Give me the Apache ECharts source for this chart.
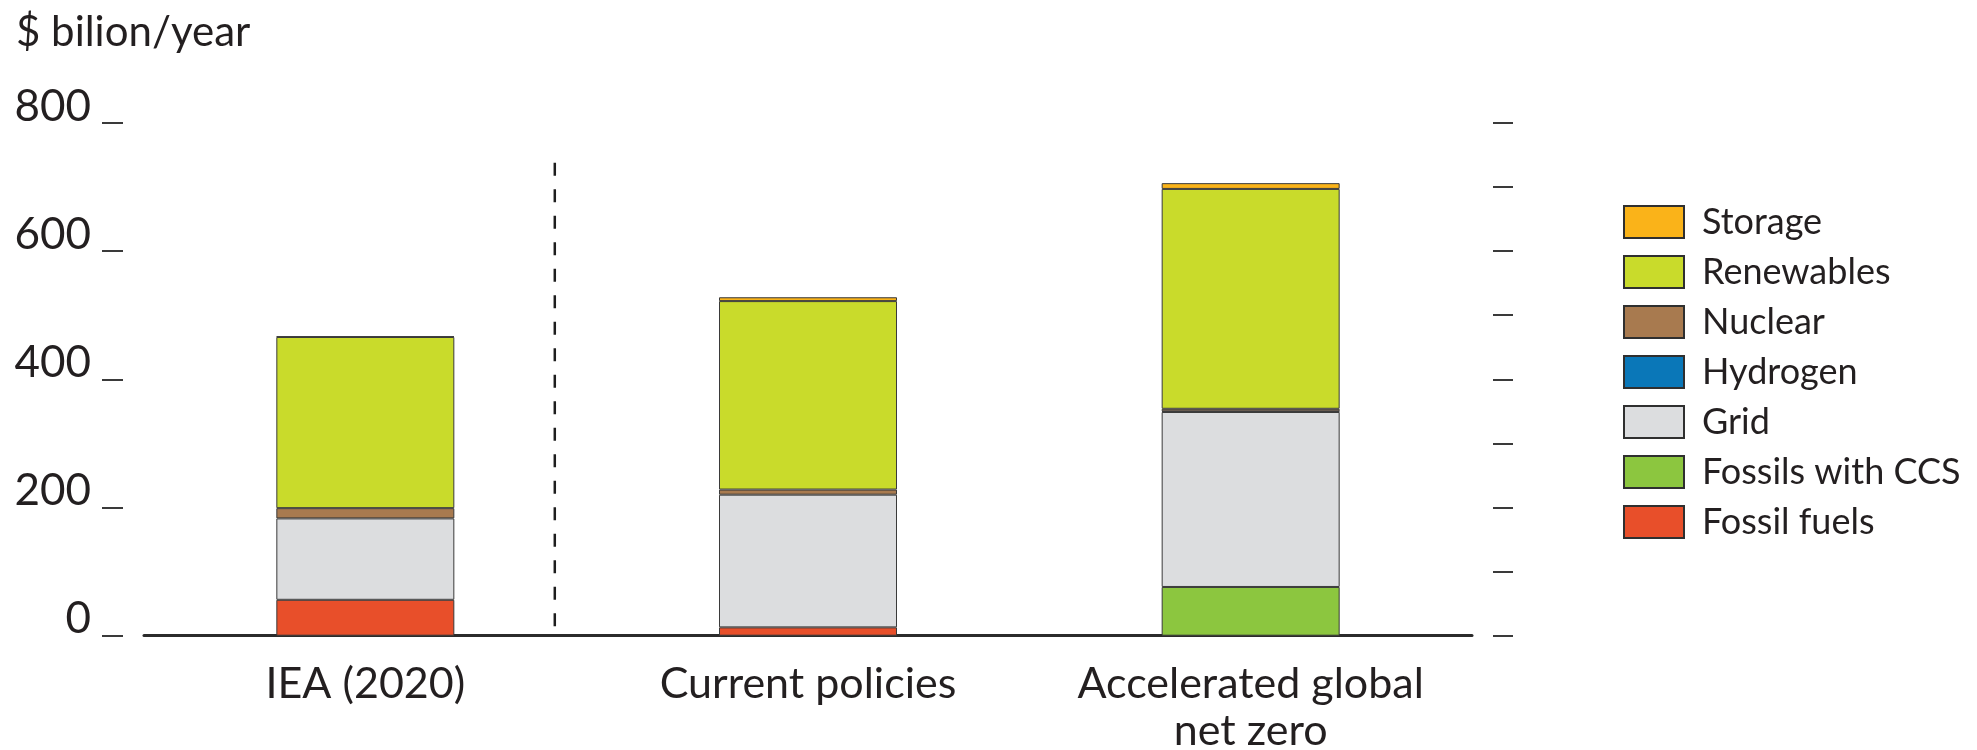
<!DOCTYPE html>
<html>
<head>
<meta charset="utf-8">
<title>Power sector investment</title>
<script src="https://cdn.jsdelivr.net/npm/echarts@6/dist/echarts.min.js"></script>
<style>
  html, body { margin: 0; padding: 0; background: #ffffff; }
  #chart { width: 1977px; height: 750px; }
</style>
</head>
<body>
<div id="chart"></div>
<script>
// Annual power-sector investment by scenario ($ billion/year)
const categories = ['IEA (2020)', 'Current policies', 'Accelerated global\nnet zero'];

const fossilFuels     = [56, 13, null];
const fossilsWithCCS  = [null, null, 76];
const grid            = [127, 207, 273];
const hydrogen        = [null, null, 1];
const nuclear         = [16, 8, 4];
const renewables      = [267, 294, 343];
const storage         = [1, 6, 9];

const yTicksLeft  = [0, 200, 400, 600, 800];
const yTicksRight = [0, 100, 200, 300, 400, 500, 600, 700, 800];

// separator between the historical reference and the scenarios
const separatorX = 0.928;
const separatorSpan = [738, 9];

const legendOrder = ['Storage', 'Renewables', 'Nuclear', 'Hydrogen', 'Grid', 'Fossils with CCS', 'Fossil fuels'];

const colors = {
  'Fossil fuels': '#e84f2a',
  'Fossils with CCS': '#8cc63f',
  'Grid': '#dcdddf',
  'Hydrogen': '#0a77b8',
  'Nuclear': '#a87a4f',
  'Renewables': '#c9db2b',
  'Storage': '#fab319'
};

const FONT = 'Lato, "Open Sans", sans-serif';
const INK = '#231f20';

function barSeries(name, values) {
  return {
    name: name,
    type: 'bar',
    stack: 'total',
    barWidth: 178,
    data: values,
    itemStyle: { color: colors[name], borderColor: '#3a3a3a', borderWidth: 1 },
    emphasis: { disabled: true }
  };
}

const chart = echarts.init(document.getElementById('chart'), null, { renderer: 'canvas' });

chart.setOption({
  animation: false,
  backgroundColor: '#ffffff',
  title: {
    text: '$ bilion/year',
    left: 11,
    top: 6,
    textStyle: { fontFamily: FONT, fontSize: 42, fontWeight: 'normal', color: INK }
  },
  legend: {
    orient: 'vertical',
    left: 1623,
    top: 204,
    padding: 0,
    itemWidth: 60,
    itemHeight: 32,
    itemGap: 14,
    icon: 'rect',
    data: legendOrder,
    selectedMode: false,
    itemStyle: { borderColor: '#2f2f2f', borderWidth: 2 },
    textStyle: { fontFamily: FONT, fontSize: 36, color: INK, padding: [0, 0, 0, 13] }
  },
  grid: {
    left: 144,
    right: 505,
    top: 122.9,
    bottom: 114.3,
    containLabel: false,
    outerBoundsMode: 'none'
  },
  xAxis: [
    {
      type: 'category',
      data: categories,
      axisLine: { show: true, onZero: false, lineStyle: { color: '#2b2b2b', width: 3 } },
      axisTick: { show: false },
      axisLabel: {
        interval: 0,
        margin: 25,
        fontFamily: FONT,
        fontSize: 43,
        lineHeight: 47,
        color: INK
      }
    },
    {
      type: 'value',
      min: 0,
      max: 3,
      show: false
    }
  ],
  yAxis: [
    {
      type: 'value',
      position: 'left',
      offset: 21,
      min: 0,
      max: 800,
      interval: 200,
      axisLine: { show: false, onZero: false },
      axisTick: { show: true, length: 21, lineStyle: { color: '#3a3a3a', width: 2 } },
      splitLine: { show: false },
      axisLabel: {
        margin: 32,
        fontFamily: FONT,
        fontSize: 44,
        lineHeight: 33,
        color: INK,
        verticalAlign: 'bottom',
        formatter: function (v) { return yTicksLeft.indexOf(v) >= 0 ? String(v) : ''; }
      }
    },
    {
      type: 'value',
      position: 'right',
      offset: 21,
      min: 0,
      max: 800,
      interval: 100,
      axisLine: { show: false, onZero: false },
      axisTick: { show: true, length: 20, lineStyle: { color: '#3a3a3a', width: 2 } },
      splitLine: { show: false },
      axisLabel: {
        show: false,
        formatter: function (v) { return yTicksRight.indexOf(v) >= 0 ? String(v) : ''; }
      }
    }
  ],
  series: [
    barSeries('Fossil fuels', fossilFuels),
    barSeries('Fossils with CCS', fossilsWithCCS),
    barSeries('Grid', grid),
    barSeries('Hydrogen', hydrogen),
    barSeries('Nuclear', nuclear),
    barSeries('Renewables', renewables),
    barSeries('Storage', storage),
    {
      name: 'separator',
      type: 'line',
      xAxisIndex: 1,
      yAxisIndex: 0,
      symbol: 'none',
      silent: true,
      data: [[separatorX, separatorSpan[0]], [separatorX, separatorSpan[1]]],
      lineStyle: { color: '#1e1e1e', width: 2.5, type: [13, 13.5] }
    }
  ]
});
</script>
</body>
</html>
